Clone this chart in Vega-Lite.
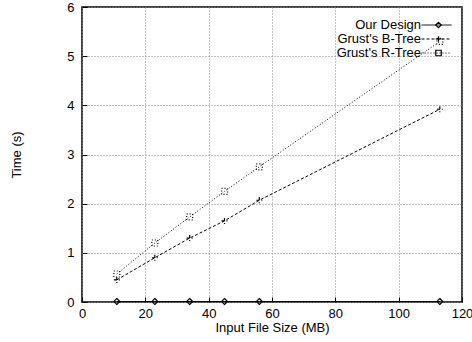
{
  "$schema": "https://vega.github.io/schema/vega-lite/v6.json",
  "width": 380,
  "height": 295,
  "autosize": "none",
  "padding": {"left": 82, "top": 7, "right": 10, "bottom": 40},
  "config": {
    "font": "Liberation Sans",
    "view": {"stroke": "black", "strokeWidth": 1.5},
    "axis": {"labelFontSize": 13, "titleFontSize": 13, "labelColor": "black", "titleColor": "black", "titleFontWeight": "normal", "domain": false, "tickColor": "black", "tickSize": -5, "gridColor": "#888", "gridDash": [1, 2], "gridOpacity": 1}
  },
  "data": {
    "values": [
      {"size": 11, "time": 0.01, "series": "Our Design", "marker": "diamond"},
      {"size": 23, "time": 0.01, "series": "Our Design", "marker": "diamond"},
      {"size": 34, "time": 0.01, "series": "Our Design", "marker": "diamond"},
      {"size": 45, "time": 0.01, "series": "Our Design", "marker": "diamond"},
      {"size": 56, "time": 0.01, "series": "Our Design", "marker": "diamond"},
      {"size": 113, "time": 0.01, "series": "Our Design", "marker": "diamond"},
      {"size": 11, "time": 0.45, "series": "Grust's B-Tree", "marker": "plus"},
      {"size": 23, "time": 0.9, "series": "Grust's B-Tree", "marker": "plus"},
      {"size": 34, "time": 1.3, "series": "Grust's B-Tree", "marker": "plus"},
      {"size": 45, "time": 1.65, "series": "Grust's B-Tree", "marker": "plus"},
      {"size": 56, "time": 2.07, "series": "Grust's B-Tree", "marker": "plus"},
      {"size": 113, "time": 3.92, "series": "Grust's B-Tree", "marker": "plus"},
      {"size": 11, "time": 0.57, "series": "Grust's R-Tree", "marker": "square"},
      {"size": 23, "time": 1.2, "series": "Grust's R-Tree", "marker": "square"},
      {"size": 34, "time": 1.73, "series": "Grust's R-Tree", "marker": "square"},
      {"size": 45, "time": 2.25, "series": "Grust's R-Tree", "marker": "square"},
      {"size": 56, "time": 2.75, "series": "Grust's R-Tree", "marker": "square"},
      {"size": 113, "time": 5.3, "series": "Grust's R-Tree", "marker": "square"}
    ]
  },
  "mark": {"type": "line", "strokeWidth": 1, "color": "black", "point": {"filled": false, "size": 36, "strokeWidth": 1.2, "color": "black"}},
  "encoding": {
    "x": {"field": "size", "type": "quantitative", "title": "Input File Size (MB)", "scale": {"domain": [0, 120], "nice": false}, "axis": {"values": [0, 20, 40, 60, 80, 100, 120], "titlePadding": 1, "labelPadding": 10, "labelFlush": false}},
    "y": {"field": "time", "type": "quantitative", "title": "Time (s)", "scale": {"domain": [0, 6], "nice": false}, "axis": {"values": [0, 1, 2, 3, 4, 5, 6], "titlePadding": 43, "labelPadding": 13}},
    "strokeDash": {"field": "series", "type": "nominal", "scale": {"domain": ["Our Design", "Grust's B-Tree", "Grust's R-Tree"], "range": [[1, 0], [3, 2], [1, 2]]}, "legend": {"title": null, "orient": "none", "legendX": 348, "legendY": 11.5, "labelFontSize": 13, "labelColor": "black", "labelAlign": "right", "labelOffset": -22, "rowPadding": -1, "symbolType": "M-3,0L3,0", "symbolSize": 100, "symbolStrokeColor": "black", "symbolStrokeWidth": 1}},
    "shape": {"field": "marker", "type": "nominal", "scale": {"domain": ["diamond", "plus", "square"], "range": ["diamond", "M-1,0L1,0M0,-1L0,1", "square"]}, "legend": {"title": null, "orient": "none", "legendX": 350, "legendY": 11.5, "labelFontSize": 13, "labelOpacity": 0, "rowPadding": -1, "symbolSize": 30, "symbolFillColor": "transparent", "symbolStrokeColor": "black", "symbolStrokeWidth": 1.2}}
  }
}
